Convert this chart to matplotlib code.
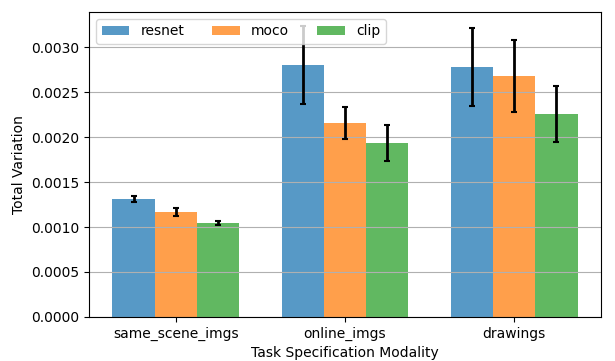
import numpy as np
import matplotlib.pyplot as plt

categories = ['same_scene_imgs', 'online_imgs', 'drawings']
models = ['resnet', 'moco', 'clip']
means = {
    'resnet': [0.001311, 0.002800, 0.002778],
    'moco': [0.001167, 0.002156, 0.002678],
    'clip': [0.001044, 0.001933, 0.002256],
}
errs = {
    'resnet': [0.00003, 0.00043, 0.00043],
    'moco': [0.00004, 0.00018, 0.00040],
    'clip': [0.00002, 0.00020, 0.00031],
}

fig, ax = plt.subplots(figsize=(6.15, 3.61), dpi=100)
x = np.arange(len(categories))
width = 0.25
for i, m in enumerate(models):
    ax.bar(x + (i - 1) * width, means[m], width, yerr=errs[m], capsize=2,
           alpha=0.75, label=m, error_kw=dict(elinewidth=2, capthick=1.5))

ax.set_xticks(x)
ax.set_xticklabels(categories)
ax.set_xlabel('Task Specification Modality')
ax.set_ylabel('Total Variation')
ax.yaxis.grid(True)
ax.legend(loc='upper left', ncol=3)
fig.subplots_adjust(left=0.145, right=0.977, top=0.967, bottom=0.122)
fig.savefig('out.png')
